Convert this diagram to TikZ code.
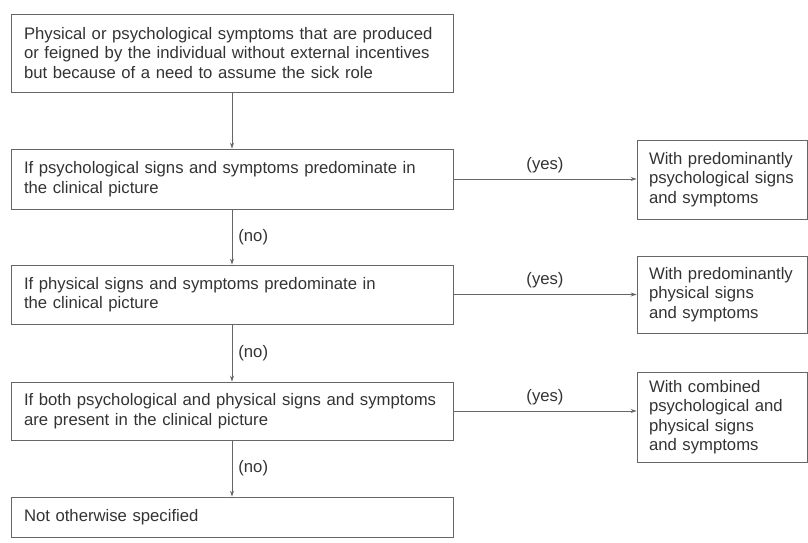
\documentclass[tikz,border=0pt]{standalone}
\usepackage{fontspec}
\setmainfont{Liberation Sans}
\usetikzlibrary{positioning}
\usetikzlibrary{arrows.meta}

\begin{document}
\begin{tikzpicture}[x=1pt,y=-1pt,draw=black!60,>={Stealth[length=6pt,width=4pt]}]
        \tikzstyle{every node}=[text=black!80,font=\fontsize{16.7}{19.5}\selectfont]
        \tikzstyle{crit box}=[draw=black!60,line width=0.9pt,inner sep=0pt,minimum width=442pt,text width=416pt,align=left]
        \tikzstyle{spec box}=[draw=black!60,line width=0.9pt,inner sep=0pt,minimum width=170pt,text width=146pt,align=left]
        \tikzstyle{flow}=[->,line width=0.8pt]
        \tikzstyle{annot}=[inner sep=6pt]

        \useasboundingbox (0,0) rectangle (808,543);

        % Left column: the criteria
        \node[crit box, minimum height=78pt] (C-0) at (232,53)
            {Physical or psychological symptoms that are produced\\
             or feigned by the individual without external incentives\\
             but because of a need to assume the sick role};
        \node[crit box, minimum height=60pt] (C-1) at (232,179)
            {If psychological signs and symptoms predominate in\\
             the clinical picture};
        \node[crit box, minimum height=59pt] (C-2) at (232,294.5)
            {If physical signs and symptoms predominate in\\
             the clinical picture};
        \node[crit box, minimum height=58pt] (C-3) at (232,411)
            {If both psychological and physical signs and symptoms\\
             are present in the clinical picture};
        \node[crit box, minimum height=40pt] (C-4) at (232,517)
            {Not otherwise specified};

        % Right column: the subtypes
        \node[spec box, minimum height=79pt] (S-1) at (722,179.5)
            {With predominantly\\ psychological signs\\ and symptoms};
        \node[spec box, minimum height=77pt] (S-2) at (722,294.5)
            {With predominantly\\ physical signs\\ and symptoms};
        \node[spec box, minimum height=90pt] (S-3) at (722,417)
            {With combined\\ psychological and\\ physical signs\\ and symptoms};

        % Down the left column
        \draw[flow] (C-0) -- (C-1);
        \foreach \i [evaluate=\i as \j using int(\i+1)] in {1,2,3}
            \draw[flow] (C-\i) -- node[annot, right] {(no)} (C-\j);

        % Across to the subtypes
        \foreach \i in {1,2,3}
            \draw[flow] (C-\i.east) -- node[annot, above] {(yes)} (C-\i.east -| S-\i.west);
    \end{tikzpicture}
\end{document}
